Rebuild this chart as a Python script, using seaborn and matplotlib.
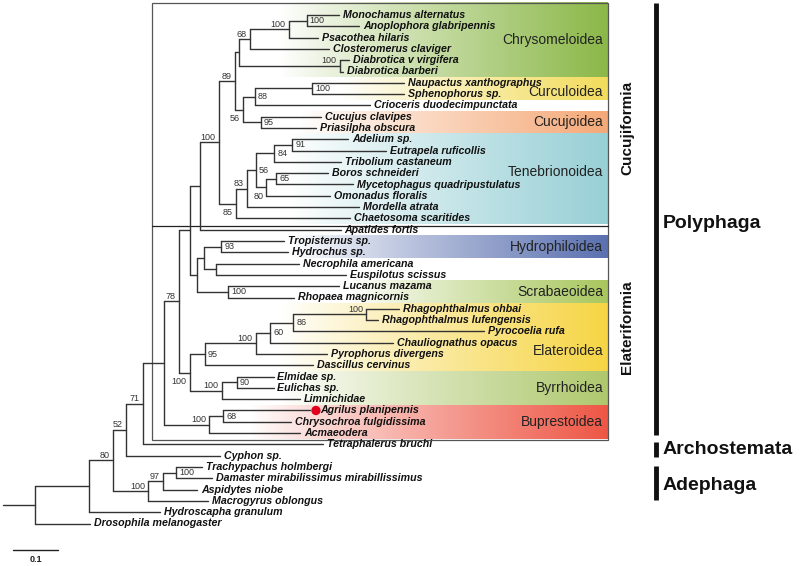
import re
import numpy as np
import pandas as pd
import matplotlib
matplotlib.use("Agg")
import matplotlib.pyplot as plt
from matplotlib.colors import LinearSegmentedColormap
from matplotlib.patches import Rectangle
import seaborn as sns

# ---- data -------------------------------------------------------------
# ML tree, branch lengths in substitutions/site, bootstrap values as node labels
tree_newick = (
    "(((((((((((((((Monochamus_alternatus:0.071,Anoplophora_glabripennis:0.116)100:0.040,"
    "Psacothea_hilaris:0.064)100:0.087,Closteromerus_claviger:0.176)68:0.024,"
    "(Diabrotica_v_virgifera:0.020,Diabrotica_barberi:0.007)100:0.224):0.009,"
    "(((Naupactus_xanthographus:0.204,Sphenophorus_sp.:0.204)100:0.127,"
    "Crioceris_duodecimpunctata:0.256)88:0.027,"
    "(Cucujus_clavipes:0.133,Priasilpha_obscura:0.122)95:0.040)56:0.018)89:0.036,"
    "(((((Adelium_sp.:0.124,Eutrapela_ruficollis:0.209)91:0.040,Tribolium_castaneum:0.147)84:0.042,"
    "((Boros_schneideri:0.116,Mycetophagus_quadripustulatus:0.171)65:0.022,"
    "Omonadus_floralis:0.142)80:0.024)56:0.020,Mordella_atrata:0.249)83:0.024,"
    "Chaetosoma_scaritides:0.253)85:0.038)100:0.042,Apatides_fortis:0.313):0.022,"
    "(((Tropisternus_sp.:0.140,Hydrochus_sp.:0.149)93:0.038,"
    "(Necrophila_americana:0.184,Euspilotus_scissus:0.289):0.027):0.016,"
    "(Lucanus_mazama:0.247,Rhopaea_magnicornis:0.147)100:0.069):0.016):0.024,"
    "((((((Rhagophthalmus_ohbai:0.073,Rhagophthalmus_lufengensis:0.027)100:0.162,"
    "Pyrocoelia_rufa:0.424)86:0.051,Chauliognathus_opacus:0.273)60:0.033,"
    "Pyrophorus_divergens:0.158)100:0.113,Dascillus_cervinus:0.240)95:0.033,"
    "((Elmidae_sp.:0.082,Eulichas_sp.:0.082)90:0.033,Limnichidae:0.173)100:0.071)100:0.024)78:0.033,"
    "((Agrilus_planipennis:0.193,Chrysochroa_fulgidissima:0.151)68:0.031,"
    "Acmaeodera:0.202)100:0.100):0.047,Tetraphalerus_bruchi:0.400)71:0.038,"
    "Cyphon_sp.:0.209)52:0.029,"
    "(((Trachypachus_holmbergi:0.058,Damaster_mirabilissimus_mirabillissimus:0.080)100:0.029,"
    "Aspidytes_niobe:0.076)97:0.033,Macrogyrus_oblongus:0.133)100:0.078)80:0.053,"
    "Hydroscapha_granulum:0.158):0.120,Drosophila_melanogaster:0.122);"
)
root_stem = 0.071
highlight_taxon = "Agrilus planipennis"

group_names = ["Chrysomeloidea", "Curculoidea", "Cucujoidea", "Tenebrionoidea",
               "Hydrophiloidea", "Scrabaeoidea", "Elateroidea", "Byrrhoidea", "Buprestoidea"]
group_first = ["Monochamus alternatus", "Naupactus xanthographus", "Cucujus clavipes",
               "Adelium sp.", "Tropisternus sp.", "Lucanus mazama", "Rhagophthalmus ohbai",
               "Elmidae sp.", "Agrilus planipennis"]
group_last = ["Diabrotica barberi", "Sphenophorus sp.", "Priasilpha obscura",
              "Chaetosoma scaritides", "Hydrochus sp.", "Rhopaea magnicornis",
              "Dascillus cervinus", "Limnichidae", "Acmaeodera"]
group_colors = ["#8cb849", "#f2dc5d", "#f5a978", "#98d0d6", "#5b71b0",
                "#a9c75f", "#f6d545", "#afc86e", "#ee5746"]

infraorders = ["Cucujiformia", "Elateriformia"]
suborders = ["Polyphaga", "Archostemata", "Adephaga"]

# support labels drawn right of the node / below the branch (rest: above the branch)
support_right = [
    ("Monochamus alternatus", "Anoplophora glabripennis"),
    ("Naupactus xanthographus", "Crioceris duodecimpunctata"),
    ("Naupactus xanthographus", "Sphenophorus sp."),
    ("Cucujus clavipes", "Priasilpha obscura"),
    ("Adelium sp.", "Omonadus floralis"),
    ("Adelium sp.", "Tribolium castaneum"),
    ("Adelium sp.", "Eutrapela ruficollis"),
    ("Boros schneideri", "Mycetophagus quadripustulatus"),
    ("Tropisternus sp.", "Hydrochus sp."),
    ("Lucanus mazama", "Rhopaea magnicornis"),
    ("Rhagophthalmus ohbai", "Dascillus cervinus"),
    ("Rhagophthalmus ohbai", "Chauliognathus opacus"),
    ("Rhagophthalmus ohbai", "Pyrocoelia rufa"),
    ("Elmidae sp.", "Eulichas sp."),
    ("Agrilus planipennis", "Chrysochroa fulgidissima"),
    ("Trachypachus holmbergi", "Damaster mirabilissimus mirabillissimus"),
]
support_below = [
    ("Naupactus xanthographus", "Priasilpha obscura"),
    ("Adelium sp.", "Chaetosoma scaritides"),
    ("Boros schneideri", "Omonadus floralis"),
    ("Rhagophthalmus ohbai", "Limnichidae"),
]


# ---- tree parsing / layout ---------------------------------------------
def parse_newick(s):
    pos = 0

    def node():
        nonlocal pos
        kids = []
        if s[pos] == "(":
            pos += 1
            kids.append(node())
            while s[pos] == ",":
                pos += 1
                kids.append(node())
            pos += 1
        m = re.match(r"([^:,();]*)(?::([\d.]+))?", s[pos:])
        pos += m.end()
        return {"name": m.group(1).replace("_", " "),
                "len": float(m.group(2) or 0), "children": kids}

    return node()


tree = parse_newick(tree_newick)
leaves = []


def layout(n, x0):
    n["x"] = x0 + n["len"]
    if not n["children"]:
        n["y"] = len(leaves)
        n["first"] = n["last"] = n["name"]
        leaves.append(n)
        return
    for c in n["children"]:
        layout(c, n["x"])
    n["y"] = (n["children"][0]["y"] + n["children"][-1]["y"]) / 2
    n["first"] = n["children"][0]["first"]
    n["last"] = n["children"][-1]["last"]


tree["len"] = 0.0
layout(tree, 0.0)
row = {l["name"]: l["y"] for l in leaves}

segs = []


def collect(n):
    for c in n["children"]:
        segs.append((n["x"], c["y"], c["x"], c["y"]))
        collect(c)
    if n["children"]:
        segs.append((n["x"], n["children"][0]["y"], n["x"], n["children"][-1]["y"]))


collect(tree)
segs.append((-root_stem, tree["y"], 0.0, tree["y"]))
seg_df = pd.DataFrame(
    [(i, x, y) for i, (xa, ya, xb, yb) in enumerate(segs) for x, y in ((xa, ya), (xb, yb))],
    columns=["seg", "x", "y"])

# ---- figure -----------------------------------------------------------
sns.set_style("white")
plt.rcParams["font.family"] = ["Liberation Sans", "DejaVu Sans"]

PXX = 1 / 450.0   # one reference pixel in x (branch-length units)
PXY = 1 / 11.3    # one reference pixel in y (rows)


def fx(p):
    return (p - 35) * PXX


def fy(p):
    return (p - 15) * PXY


fig = plt.figure(figsize=(8, 5.66), dpi=100)
ax = fig.add_axes([0, 0, 1, 1])

box_l, box_r, box_t, box_b = fx(152), fx(608), fy(3), fy(440)

# gradient bands for superfamilies
grad_start = {"Chrysomeloidea": 280, "Curculoidea": 340, "Cucujoidea": 300,
              "Tenebrionoidea": 290, "Hydrophiloidea": 290, "Scrabaeoidea": 350,
              "Elateroidea": 280, "Byrrhoidea": 280, "Buprestoidea": 250}
label_nudge = {"Curculoidea": 0.35, "Tenebrionoidea": -0.6, "Elateroidea": 1.2}
ramp = np.linspace(0, 1, 256)[None, :] ** 0.9
for name, first, last, col in zip(group_names, group_first, group_last, group_colors):
    y0 = row[first] - 0.5 if name != "Chrysomeloidea" else box_t
    y1 = row[last] + 0.5
    cmap = LinearSegmentedColormap.from_list(name, ["white", col])
    ax.imshow(ramp, cmap=cmap, extent=[fx(grad_start[name]), box_r, y1, y0],
              aspect="auto", zorder=0, interpolation="bilinear")
    ax.text(box_r - 5 * PXX, (y0 + y1) / 2 + label_nudge.get(name, 0), name,
            ha="right", va="center", fontsize=10, color="#222222", zorder=3)

ax.add_patch(Rectangle((box_l, box_t), box_r - box_l, box_b - box_t,
                       fill=False, ec="#555555", lw=0.9, zorder=2))
ax.plot([box_l, box_r], [fy(226.5)] * 2, color="#222222", lw=0.9, zorder=2)

# tree branches
sns.lineplot(data=seg_df, x="x", y="y", units="seg", estimator=None, sort=False,
             color="#333333", lw=1.0, ax=ax, legend=False, zorder=4)

# tip labels
for l in leaves:
    off = 4
    if l["name"] == highlight_taxon:
        sns.scatterplot(x=[l["x"] + 6 * PXX], y=[l["y"]], s=45, color="#e0001b",
                        edgecolor="none", ax=ax, zorder=5, legend=False)
        off = 10
    ax.text(l["x"] + off * PXX, l["y"], l["name"], ha="left", va="center",
            fontsize=7.7, fontweight="bold", fontstyle="italic", color="#111111", zorder=5)

# bootstrap values
right_set, below_set = set(support_right), set(support_below)


def supports(n):
    if n["children"] and n["name"]:
        key = (n["first"], n["last"])
        if key in right_set:
            ax.text(n["x"] + 3 * PXX, n["y"], n["name"], ha="left", va="center",
                    fontsize=6.5, color="#333333", zorder=5)
        elif key in below_set:
            ax.text(n["x"] - 3 * PXX, n["y"] + 11.5 * PXY, n["name"], ha="right",
                    va="baseline", fontsize=6.5, color="#333333", zorder=5)
        else:
            ax.text(n["x"] - 3 * PXX, n["y"] - 2.5 * PXY, n["name"], ha="right",
                    va="baseline", fontsize=6.5, color="#333333", zorder=5)
    for c in n["children"]:
        supports(c)


supports(tree)

# infraorder labels
for name, yc in zip(infraorders, [fy(127.5), fy(327.5)]):
    ax.text(fx(627), yc, name, rotation=90, ha="center", va="center",
            fontsize=11, fontweight="bold", color="#111111")

# suborder bars
bar_spans = [(fy(3), fy(435)), (fy(442), fy(457)), (fy(466), fy(500))]
text_rows = [fy(223), fy(450), fy(486)]
for name, (ya, yb), yt in zip(suborders, bar_spans, text_rows):
    ax.plot([fx(656)] * 2, [ya, yb], color="#111111", lw=3.5, solid_capstyle="butt")
    ax.text(fx(663), yt, name, ha="left", va="center", fontsize=14,
            fontweight="bold", color="#111111")

# scale bar
sb_x0 = fx(13)
ax.plot([sb_x0, sb_x0 + 0.1], [fy(550)] * 2, color="#222222", lw=1.0)
ax.text(sb_x0 + 0.05, fy(560), "0.1", ha="center", va="center",
        fontsize=6.5, fontweight="bold", color="#222222")

ax.set_xlim(fx(0), fx(800))
ax.set_ylim(fy(566), fy(0))
ax.set_axis_off()

fig.savefig("out.png", dpi=100)
